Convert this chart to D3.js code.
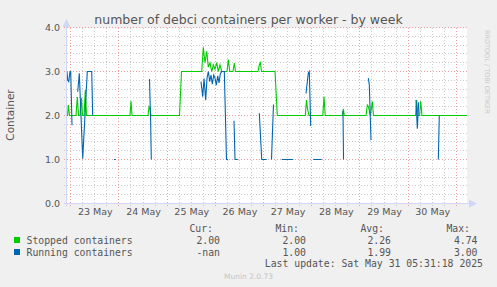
<!DOCTYPE html>
<html>
<head>
<meta charset="utf-8">
<style>
  body { margin:0; background:#f0f0f0; }
  #chart-area svg { display:block; }
  text { font-family: "DejaVu Sans", sans-serif; fill:#555; }
  .mono { font-family: "DejaVu Sans Mono", monospace; font-size: 9.8px; fill:#555; }
</style>
</head>
<body>
<div id="chart-area"></div>

<script src="https://cdn.jsdelivr.net/npm/d3@7/dist/d3.min.js"></script>
<script>

    // time is fractional day of May 2025
    var viewStart = 22.923, viewEnd = 31.222;
    var dayLabels = ["23 May", "24 May", "25 May", "26 May", "27 May", "28 May", "29 May", "30 May"];
    var dayNoons = [23.5, 24.5, 25.5, 26.5, 27.5, 28.5, 29.5, 30.5];
    var yTicks = [0, 1, 2, 3, 4];

    var stoppedDays = [22.923, 22.935, 22.950, 22.975, 23.110, 23.137, 23.162, 23.193, 23.224, 23.245,
        23.276, 23.303, 23.328, 24.230, 24.251, 24.272, 24.604, 24.624, 24.645, 24.666,
        25.257, 25.299, 25.718, 25.751, 25.786, 25.822, 25.855, 25.890, 25.925, 25.959,
        25.994, 26.029, 26.062, 26.098, 26.133, 26.243, 26.270, 26.301, 26.367, 26.394,
        26.421, 26.886, 26.913, 26.934, 26.959, 27.239, 27.286, 27.867, 27.892, 27.913,
        27.944, 28.230, 28.255, 28.280, 28.635, 28.656, 28.676, 29.127, 29.154, 29.178,
        29.205, 29.220, 29.257, 29.282, 30.154, 30.178, 30.205, 30.237, 30.261, 30.288, 31.222];
    var stoppedValues = [2.00, 2.00, 2.24, 2.00, 2.00, 2.42, 2.00, 2.00, 2.40, 2.00,
        2.00, 2.58, 2.00, 2.00, 2.33, 2.00, 2.00, 2.20, 2.15, 2.00,
        2.00, 3.00, 3.00, 3.55, 3.20, 3.46, 3.10, 3.20, 3.00, 3.15,
        3.05, 3.20, 3.00, 3.15, 3.00, 3.00, 3.27, 3.00, 3.00, 3.19,
        3.00, 3.00, 3.15, 3.20, 3.00, 3.00, 2.00, 2.00, 2.35, 2.15,
        2.00, 2.00, 2.43, 2.00, 2.00, 2.15, 2.00, 2.00, 2.24, 2.20,
        2.05, 2.00, 2.32, 2.00, 2.00, 2.35, 2.00, 2.00, 2.32, 2.00, 2.00];

    // null = no data (gap)
    var runningDays = [22.923, 22.938, 22.959, 22.985, 23.000, 23.027, 23.050,
        23.145, 23.178, 23.249, 23.344, 23.436, 23.456, 23.470,
        23.898, 23.934, 23.950,
        24.635, 24.645, 24.656, 24.672, 24.690,
        25.703, 25.739, 25.766, 25.801, 25.828, 25.855, 25.884, 25.911, 25.938, 25.967,
        25.994, 26.021, 26.050, 26.077, 26.104, 26.133, 26.187, 26.232, 26.263, 26.280,
        26.388, 26.409, 26.465, 26.480,
        26.913, 26.963, 27.066, 27.100,
        27.166, 27.207, 27.220,
        27.378, 27.618, 27.630,
        27.882, 27.929, 27.950, 27.979, 27.995,
        28.033, 28.207, 28.220,
        28.649, 28.660, 28.675,
        29.174, 29.195, 29.230, 29.245,
        30.164, 30.191, 30.220, 30.235,
        30.627, 30.647];
    var runningValues = [3.00, 2.80, 2.77, 3.00, 3.00, 1.78, null,
        2.54, 2.96, 1.02, 3.00, 3.00, 2.00, null,
        1.00, 1.00, null,
        2.83, 2.40, 2.00, 1.00, null,
        2.77, 2.43, 2.84, 2.35, 2.85, 3.00, 2.77, 2.92, 2.71, 2.92,
        2.85, 2.69, 2.90, 2.74, 2.95, 3.00, 3.00, 1.00, 1.00, null,
        1.88, 1.00, 1.00, null,
        2.05, 1.00, 1.00, null,
        1.00, 2.25, null,
        1.00, 1.00, null,
        2.50, 2.96, 3.00, 1.76, null,
        1.00, 1.00, null,
        2.10, 1.00, null,
        2.85, 2.70, 1.44, null,
        2.35, 1.70, 2.30, null,
        1.00, 2.00];

    var legendNames = ["Stopped containers", "Running containers"];
    var curValues = ["2.00", "-nan"];
    var minValues = ["2.00", "1.00"];
    var avgValues = ["2.26", "1.99"];
    var maxValues = ["4.74", "3.00"];

    var seriesColors = ["#00cc00", "#0066b3"];

    var width = 497, height = 287;
    var plotL = 67, plotR = 467, plotT = 27.5, plotB = 203.5;

    var svg = d3.select("#chart-area").append("svg")
        .attr("width", width).attr("height", height);

    svg.append("rect").attr("width", width).attr("height", height).attr("fill", "#f0f0f0");

    var x = d3.scaleLinear().domain([viewStart, viewEnd]).range([plotL, plotR]);
    var y = d3.scaleLinear().domain([0, 4]).range([plotB, plotT]);

    svg.append("rect")
        .attr("x", plotL).attr("y", 28)
        .attr("width", plotR - plotL).attr("height", 175)
        .attr("fill", "#ffffff");

    function px(v) { return Math.round(v - 0.5) + 0.5; }

    // grid
    var minorY = d3.range(0.2, 4.01, 0.2).filter(function(v) { return Math.abs(v - Math.round(v)) > 0.01; });
    var minorX = d3.range(22.75, viewEnd, 0.25).filter(function(v) {
        return Math.abs(v - Math.round(v)) > 0.01 && v > viewStart;
    });
    var majorX = d3.range(23, viewEnd, 1);

    var grid = svg.append("g");
    grid.selectAll(".hmin").data(minorY).enter().append("line")
        .attr("x1", plotL - 3).attr("x2", plotR)
        .attr("y1", function(d) { return px(y(d)); }).attr("y2", function(d) { return px(y(d)); })
        .attr("stroke", "#cccccc").attr("stroke-dasharray", "1,2");
    grid.selectAll(".vmin").data(minorX).enter().append("line")
        .attr("y1", 28).attr("y2", 206)
        .attr("x1", function(d) { return px(x(d)); }).attr("x2", function(d) { return px(x(d)); })
        .attr("stroke", "#cccccc").attr("stroke-dasharray", "1,2");
    grid.selectAll(".hmaj").data(yTicks.slice(1)).enter().append("line")
        .attr("x1", plotL - 3).attr("x2", plotR)
        .attr("y1", function(d) { return y(d); }).attr("y2", function(d) { return y(d); })
        .attr("stroke", "#f0a0a0").attr("stroke-dasharray", "1,2");
    grid.selectAll(".vmaj").data(majorX).enter().append("line")
        .attr("y1", 28).attr("y2", 206)
        .attr("x1", function(d) { return px(x(d)); }).attr("x2", function(d) { return px(x(d)); })
        .attr("stroke", "#f0a0a0").attr("stroke-dasharray", "1,2");

    // series
    var stopped = stoppedDays.map(function(d, i) { return {t: d, v: stoppedValues[i]}; });
    var running = runningDays.map(function(d, i) { return {t: d, v: runningValues[i]}; });

    var line = d3.line()
        .defined(function(d) { return d.v !== null; })
        .x(function(d) { return x(d.t); })
        .y(function(d) { return y(d.v); });

    svg.append("path").datum(stopped)
        .attr("fill", "none").attr("stroke", seriesColors[0]).attr("stroke-width", 1.1)
        .attr("d", line);
    svg.append("path").datum(running)
        .attr("fill", "none").attr("stroke", seriesColors[1]).attr("stroke-width", 1.1)
        .attr("d", line);

    // axes lines with arrows
    var axisColor = "#cfd6f8";
    svg.append("line").attr("x1", 66.5).attr("x2", 66.5)
        .attr("y1", 206).attr("y2", 24).attr("stroke", axisColor);
    svg.append("path").attr("fill", axisColor)
        .attr("d", "M62.5,27 L66.5,19 L70.5,27 Z");
    svg.append("line").attr("x1", 64).attr("x2", plotR + 4)
        .attr("y1", plotB).attr("y2", plotB).attr("stroke", axisColor);
    svg.append("path").attr("fill", axisColor)
        .attr("d", "M" + (plotR + 2) + "," + (plotB - 4) + "L" + (plotR + 10) + "," + plotB + "L" + (plotR + 2) + "," + (plotB + 4) + "Z");

    // tick labels via d3 axes
    var xAxis = d3.axisBottom(x).tickValues(dayNoons)
        .tickFormat(function(d, i) { return dayLabels[i]; }).tickSize(0).tickPadding(5);
    var gx = svg.append("g").attr("transform", "translate(0," + 203 + ")").call(xAxis);
    gx.select(".domain").remove();
    gx.selectAll("text").style("font-size", "9.5px").attr("fill", "#555")
        .style("font-family", "DejaVu Sans, sans-serif");

    var yAxis = d3.axisLeft(y).tickValues(yTicks).tickFormat(d3.format(".1f")).tickSize(0).tickPadding(7);
    var gy = svg.append("g").attr("transform", "translate(" + plotL + ",0)").call(yAxis);
    gy.select(".domain").remove();
    gy.selectAll("text").style("font-size", "9.5px").attr("fill", "#555")
        .style("font-family", "DejaVu Sans, sans-serif");

    // title & labels
    svg.append("text").attr("x", 248.5).attr("y", 23.5).attr("text-anchor", "middle")
        .style("font-size", "12.5px").text("number of debci containers per worker - by week");
    svg.append("text").attr("transform", "translate(14,115) rotate(-90)").attr("text-anchor", "middle")
        .style("font-size", "10.5px").text("Container");
    svg.append("text").attr("transform", "translate(485,30) rotate(90)").attr("text-anchor", "start")
        .style("font-size", "6.5px").style("fill", "#c8c8c8").text("RRDTOOL / TOBI OETIKER");

    // legend
    var headers = [["Cur:", 213], ["Min:", 299], ["Avg:", 384], ["Max:", 470]];
    svg.selectAll(".hdr").data(headers).enter().append("text").attr("class", "mono")
        .attr("x", function(d) { return d[1]; }).attr("y", 231.5).attr("text-anchor", "end")
        .text(function(d) { return d[0]; });

    legendNames.forEach(function(name, i) {
        var by = 243.5 + i * 12;
        svg.append("rect").attr("x", 14).attr("y", by - 6.5).attr("width", 6).attr("height", 6)
            .attr("fill", seriesColors[i]);
        svg.append("text").attr("class", "mono").attr("x", 26.5).attr("y", by).text(name);
        [[curValues[i], 220], [minValues[i], 306], [avgValues[i], 391], [maxValues[i], 477.5]]
            .forEach(function(c) {
                svg.append("text").attr("class", "mono").attr("x", c[1]).attr("y", by)
                    .attr("text-anchor", "end").text(c[0]);
            });
    });

    svg.append("text").attr("class", "mono").attr("x", 483).attr("y", 267)
        .attr("text-anchor", "end").text("Last update: Sat May 31 05:31:18 2025");
    svg.append("text").attr("x", 248.5).attr("y", 279).attr("text-anchor", "middle")
        .style("font-size", "7.5px").style("fill", "#c4c4c4").text("Munin 2.0.73");

</script>
</body>
</html>
